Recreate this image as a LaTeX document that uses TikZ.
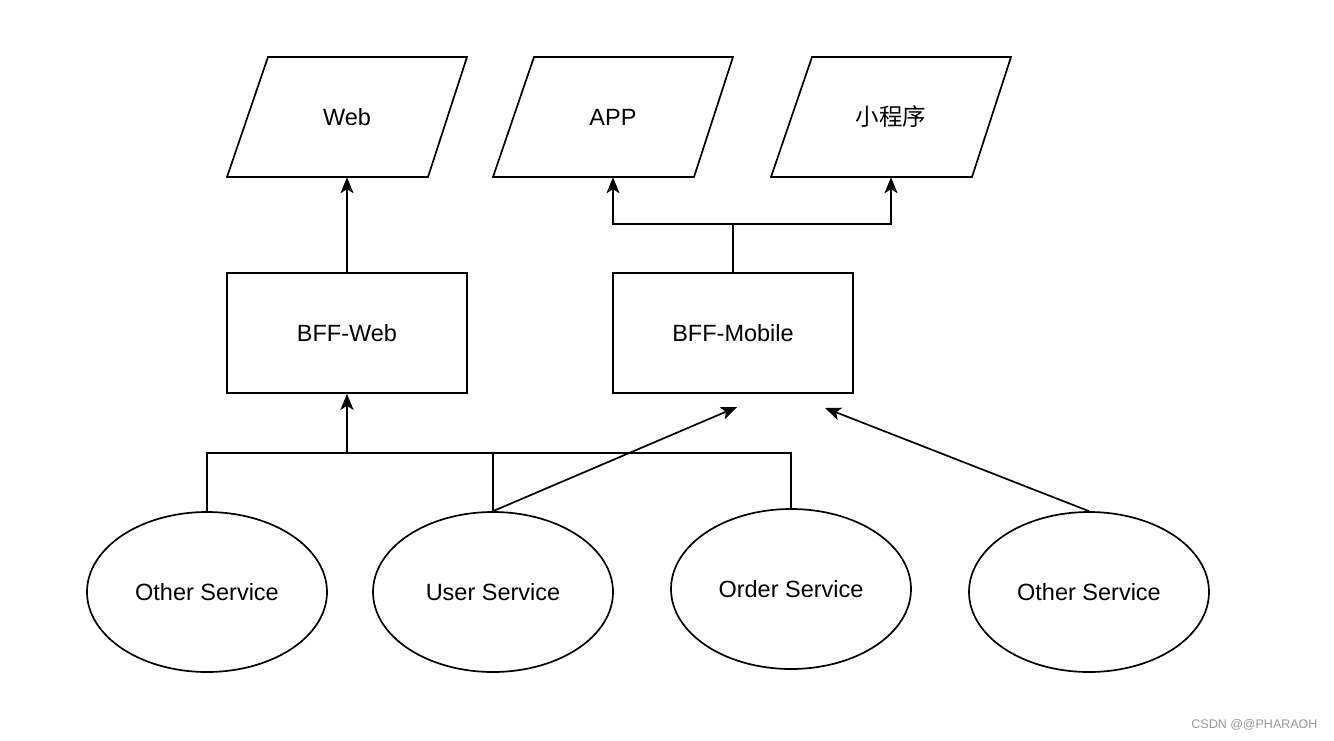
\documentclass[tikz,border=0pt]{standalone}
\usepackage{fontspec}
\setmainfont{Liberation Sans}
\newfontfamily\cjk{Noto Sans CJK SC}
\usetikzlibrary{shapes.geometric,arrows.meta}
\begin{document}
\begin{tikzpicture}[x=1pt,y=-1pt,
  every node/.style={font=\fontsize{23.5}{28}\selectfont},
  para/.style={minimum width=200pt,minimum height=120pt,inner sep=0pt},
  pline/.style={draw,line width=1.7pt,line join=miter},
  boxnode/.style={draw,line width=1.7pt,minimum width=240pt,minimum height=120pt,inner sep=0pt},
  svc/.style={draw,line width=1.7pt,ellipse,minimum width=240pt,minimum height=160pt,inner sep=0pt},
  conn/.style={line width=1.7pt},
  arr/.style={conn,-{Stealth[length=16pt,width=13pt,inset=4pt]}}]
\useasboundingbox (0,0) rectangle (1334,740);
\fill[white] (0,0) rectangle (1334,740);
\node[para] (web) at (347,117) {Web};
\node[para] (app) at (613,117) {APP};
\node[para] (mini) at (891,117) {\cjk 小程序};
\foreach \p in {web,app,mini}{
  \draw[pline] (\p.center) ++(-79,-60) -- ++(199,0) -- ++(-39,120) -- ++(-201,0) -- cycle;
}
\node[boxnode] (bffweb) at (347,333) {BFF-Web};
\node[boxnode] (bffmob) at (733,333) {BFF-Mobile};
\node[svc] (os1) at (207,592) {Other Service};
\node[svc] (us) at (493,592) {User Service};
\node[svc] (ord) at (791,589) {Order Service};
\node[svc] (os2) at (1089,592) {Other Service};
\coordinate (m1) at (737,407);
\coordinate (m2) at (825,408);
\draw[arr] (bffweb.north) -- (web.south);
\draw[arr] (bffmob.north) -- ++(0,-48) -| (app.south);
\draw[arr] (bffmob.north) -- ++(0,-48) -| (mini.south);
\draw[conn] (os1.north) |- (ord.north |- 0,453) -- (ord.north);
\draw[conn] (us.north) -- (us.north |- 0,453);
\draw[arr] (bffweb.south |- 0,453) -- (bffweb.south);
\draw[arr] (us.north) -- (m1);
\draw[arr] (os2.north) -- (m2);
\node[font=\fontsize{12.5}{14}\selectfont,text=black!40,anchor=east] (wm) at (1321,725) {CSDN @@PHARAOH};
\end{tikzpicture}
\end{document}
